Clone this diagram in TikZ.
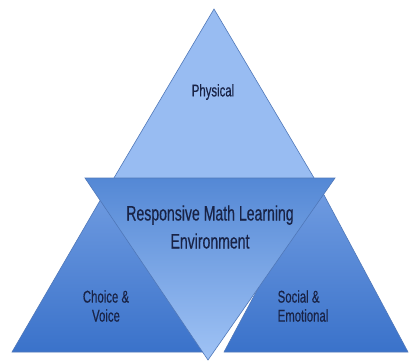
\documentclass[tikz,border=0pt]{standalone}
\usepackage{fontspec}
\setmainfont[FakeStretch=0.67,FakeBold=0.4]{Liberation Sans}
\begin{document}
\begin{tikzpicture}[x=1pt,y=-1pt,
  tri/.style={draw=edgec, line width=0.6pt, line join=miter},
  lbl/.style={text=txtc, align=center, inner sep=0pt, font=\fontsize{17}{19}\selectfont},
  bigl/.style={text=txtc, align=center, inner sep=0pt, font=\fontsize{21}{28}\selectfont}]
\definecolor{edgec}{RGB}{80,120,185}
\definecolor{txtc}{RGB}{25,35,70}
\definecolor{toplight}{RGB}{152,188,242}
\definecolor{sidetop}{RGB}{115,158,226}
\definecolor{sidebot}{RGB}{58,114,202}
\definecolor{invtop}{RGB}{84,136,213}
\definecolor{invbot}{RGB}{160,195,245}
\useasboundingbox (0,0) rectangle (409,362);
\fill[white] (0,0) rectangle (409,362);
% top triangle
\draw[tri, fill=toplight] (214,9) -- (320,188) -- (108,188) -- cycle;
% left triangle
\draw[tri, top color=sidetop, bottom color=sidebot] (112,180) -- (212,352) -- (12,352) -- cycle;
% right triangle
\draw[tri, top color=sidetop, bottom color=sidebot] (316,180) -- (408,352) -- (224,352) -- cycle;
% inverted triangle
\draw[tri, top color=invtop, bottom color=invbot] (85,178) -- (335,178) -- (208,360) -- cycle;
\node[lbl] (phys) at (213,92) {Physical};
\node[bigl] (center) at (210,227) {Responsive Math Learning\\Environment};
\node[lbl] (choice) at (106,306) {Choice \&\\Voice};
\node[lbl, align=left] (social) at (303,306) {Social \&\\Emotional};
\end{tikzpicture}
\end{document}
